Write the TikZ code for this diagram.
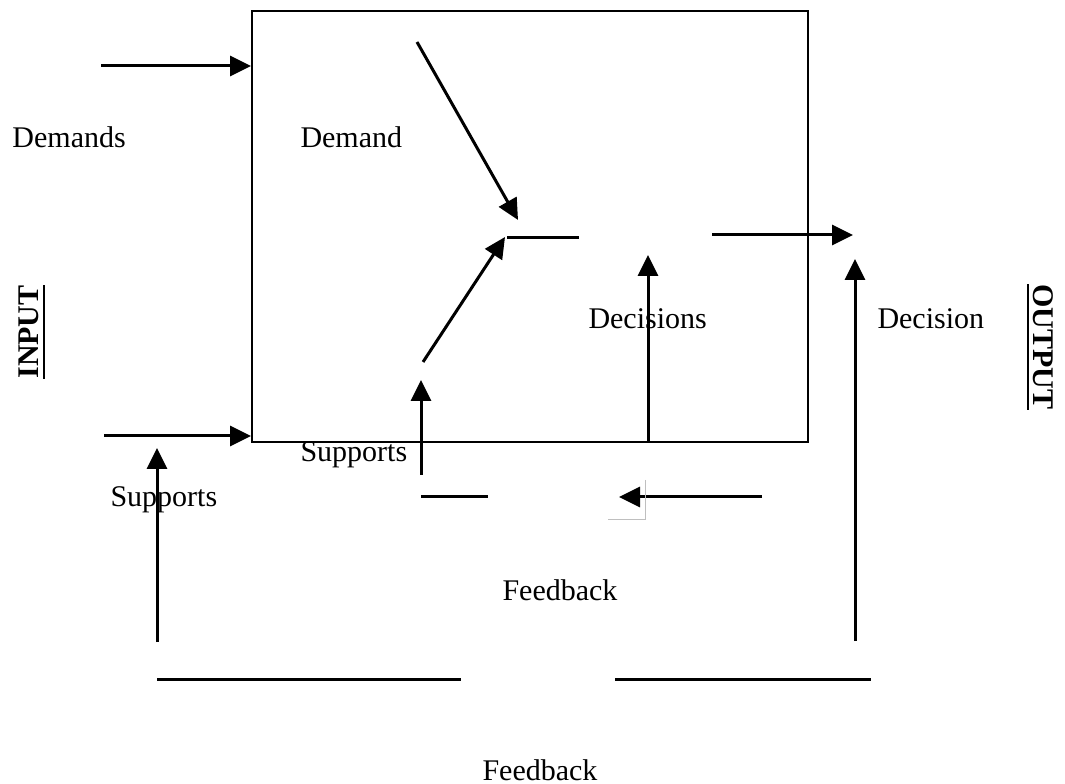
\documentclass[tikz,border=0pt]{standalone}
\usepackage{fontspec}
\setmainfont{Liberation Serif}
\usetikzlibrary{arrows.meta,positioning}
\newcommand{\ulhead}[1]{\vtop{\hbox{\textbf{#1}}\kern1.6pt\hrule height 1.1pt}}

\begin{document}
\begin{tikzpicture}[x=0.4pt, y=-0.4pt,
        font=\fontsize{12}{14}\selectfont,
        flow/.style={line width=1.2pt, -{Triangle[length=8.4pt,width=8pt]}},
        bar/.style={line width=1.2pt},
        lbl/.style={inner sep=0pt, anchor=west}]
        \useasboundingbox (0,0) rectangle (1065,784);
        % Place nodes
        \node [draw, line width=0.8pt, minimum width=556*0.4pt, minimum height=431*0.4pt, anchor=north west] (system) at (251,10) {};
        \coordinate (demin) at (101,66);
        \coordinate (supin) at (104,436);
        \coordinate (supfoot) at (157,642);
        \coordinate (demtop) at (417,42);
        \coordinate (demtip) at (518,220);
        \coordinate (suptail) at (423,362);
        \coordinate (suptip) at (505,237);
        \coordinate (convl) at (507,238);
        \coordinate (convr) at (579,238);
        \coordinate (outl) at (712,235);
        \coordinate (outr) at (853,235);
        \coordinate (fbfoot) at (421,475);
        \coordinate (fbtip) at (421,380);
        \coordinate (decfoot) at (648,441);
        \coordinate (dectip) at (648,255);
        \coordinate (rfoot) at (855,641);
        \coordinate (rtip) at (855,259);
        \coordinate (fbl) at (421,497);
        \coordinate (fbm) at (488,497);
        \coordinate (fbr) at (762,497);
        \coordinate (fbend) at (619,497);
        \coordinate (lowll) at (157,679);
        \coordinate (lowlr) at (461,679);
        \coordinate (lowrl) at (615,679);
        \coordinate (lowrr) at (871,679);

        \node [lbl] (demands) at (12,137) {Demands};
        \node [lbl] (demand) at (300,137) {Demand};
        \node [lbl] (decisions) at (588,319) {Decisions};
        \node [lbl] (decision) at (877,319) {Decision};
        \node [lbl] (supportsin) at (300,455) {Supports};
        \node [lbl] (supports) at (110,500) {Supports};
        \node [inner sep=0pt] (feedbackin) at (560,590) {Feedback};
        \node [inner sep=0pt] (feedback) at (540,770) {Feedback};
        \node [rotate=90, inner sep=0pt] (input) at (32,332) {\ulhead{INPUT}};
        \node [rotate=-90, inner sep=0pt] (output) at (1040,347) {\ulhead{OUTPUT}};

        % Draw edges
        \draw [flow] (demin) -- (demin -| system.west);
        \draw [flow] (supin) -- (supin -| system.west);
        \draw [flow] (supfoot) -- (157,448);
        \draw [flow] (demtop) -- (demtip);
        \draw [flow] (suptail) -- (suptip);
        \draw [bar] (convl) -- (convr);
        \draw [flow] (outl) -- (outr);
        \draw [flow] (fbfoot) -- (fbtip);
        \draw [flow] (decfoot) -- (dectip);
        \draw [flow] (rfoot) -- (rtip);
        \draw [bar] (fbl) -- (fbm);
        \draw [flow] (fbr) -- (fbend);
        \draw [bar] (lowll) -- (lowlr);
        \draw [bar] (lowrl) -- (lowrr);
        \draw [black!25, line width=0.3pt] (645,480) -- (645,519) -- (608,519);
\end{tikzpicture}
\end{document}
